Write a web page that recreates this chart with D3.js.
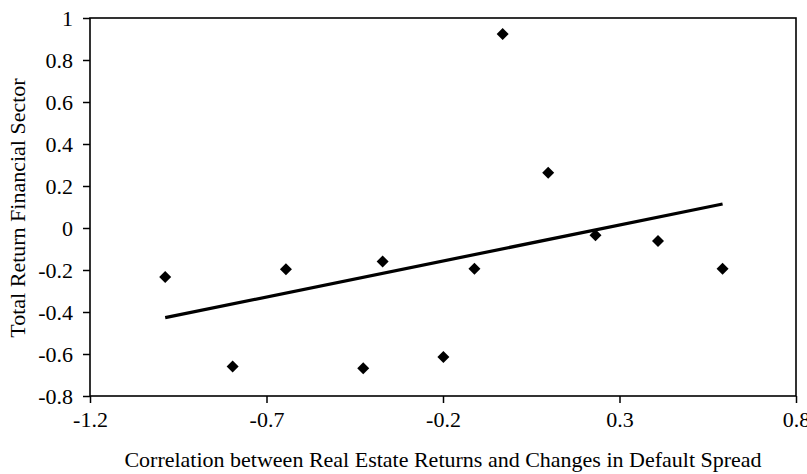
<!DOCTYPE html>
<html>
<head>
<meta charset="utf-8">
<script src="https://cdn.jsdelivr.net/npm/d3@7/dist/d3.min.js"></script>
<style>
  html, body { margin: 0; padding: 0; background: #fff; }
  svg { display: block; }
  text { font-family: "Liberation Serif", "DejaVu Serif", serif; fill: #000; }
</style>
</head>
<body>
<svg id="chart" width="807" height="474"></svg>
<script>
// Data
const correlation = [-0.987, -0.796, -0.645, -0.426, -0.371, -0.199, -0.111, -0.031, 0.098, 0.232, 0.409, 0.592];
const totalReturn = [-0.233, -0.659, -0.197, -0.668, -0.160, -0.614, -0.194, 0.924, 0.263, -0.035, -0.062, -0.194];
const xTicks = [-1.2, -0.7, -0.2, 0.3, 0.8];
const yTicks = [-0.8, -0.6, -0.4, -0.2, 0, 0.2, 0.4, 0.6, 0.8, 1];
const xTitle = "Correlation between Real Estate Returns and Changes in Default Spread";
const yTitle = "Total Return Financial Sector";

const svg = d3.select("#chart");
const mLeft = 90, mRight = 796, mTop = 18, mBottom = 396;

const x = d3.scaleLinear().domain([-1.2, 0.8]).range([mLeft, mRight]);
const y = d3.scaleLinear().domain([-0.8, 1]).range([mBottom, mTop]);

const fmt = v => (Math.abs(v) < 1e-9 ? "0" : String(+v.toFixed(1)));

// Y axis
const yAxis = svg.append("g")
  .attr("transform", `translate(${mLeft},0)`)
  .call(d3.axisLeft(y).tickValues(yTicks).tickSize(7).tickPadding(10).tickFormat(fmt));
// X axis
const xAxis = svg.append("g")
  .attr("transform", `translate(0,${mBottom})`)
  .call(d3.axisBottom(x).tickValues(xTicks).tickSize(7).tickPadding(8).tickFormat(fmt));

[yAxis, xAxis].forEach(g => {
  g.select(".domain").remove();
  g.selectAll(".tick line").attr("stroke", "#000").attr("stroke-width", 1.5);
  g.selectAll(".tick text")
    .style("font-family", '"Liberation Serif", serif')
    .style("font-size", "22px")
    .attr("fill", "#000");
});

// Plot box
svg.append("rect")
  .attr("x", mLeft).attr("y", mTop)
  .attr("width", mRight - mLeft).attr("height", mBottom - mTop)
  .attr("fill", "none").attr("stroke", "#000").attr("stroke-width", 1.6);

// Linear regression trend line
const pts = correlation.map((c, i) => [c, totalReturn[i]]);
const mx = d3.mean(correlation), my = d3.mean(totalReturn);
const slope = d3.sum(pts, p => (p[0] - mx) * (p[1] - my)) / d3.sum(pts, p => (p[0] - mx) ** 2);
const intercept = my - slope * mx;
const ext = d3.extent(correlation);
svg.append("line")
  .attr("x1", x(ext[0])).attr("y1", y(intercept + slope * ext[0]))
  .attr("x2", x(ext[1])).attr("y2", y(intercept + slope * ext[1]))
  .attr("stroke", "#000").attr("stroke-width", 3.2);

// Diamond markers
const sym = d3.symbol().type(d3.symbolSquare).size(72);
svg.append("g").selectAll("path")
  .data(pts)
  .join("path")
  .attr("d", sym)
  .attr("transform", d => `translate(${x(d[0])},${y(d[1])}) rotate(45)`)
  .attr("fill", "#000");

// Axis titles
svg.append("text")
  .attr("x", 443).attr("y", 467)
  .attr("text-anchor", "middle")
  .style("font-size", "22px")
  .text(xTitle);

svg.append("text")
  .attr("transform", `translate(25,208) rotate(-90)`)
  .attr("text-anchor", "middle")
  .style("font-size", "22px")
  .text(yTitle);
</script>
</body>
</html>
